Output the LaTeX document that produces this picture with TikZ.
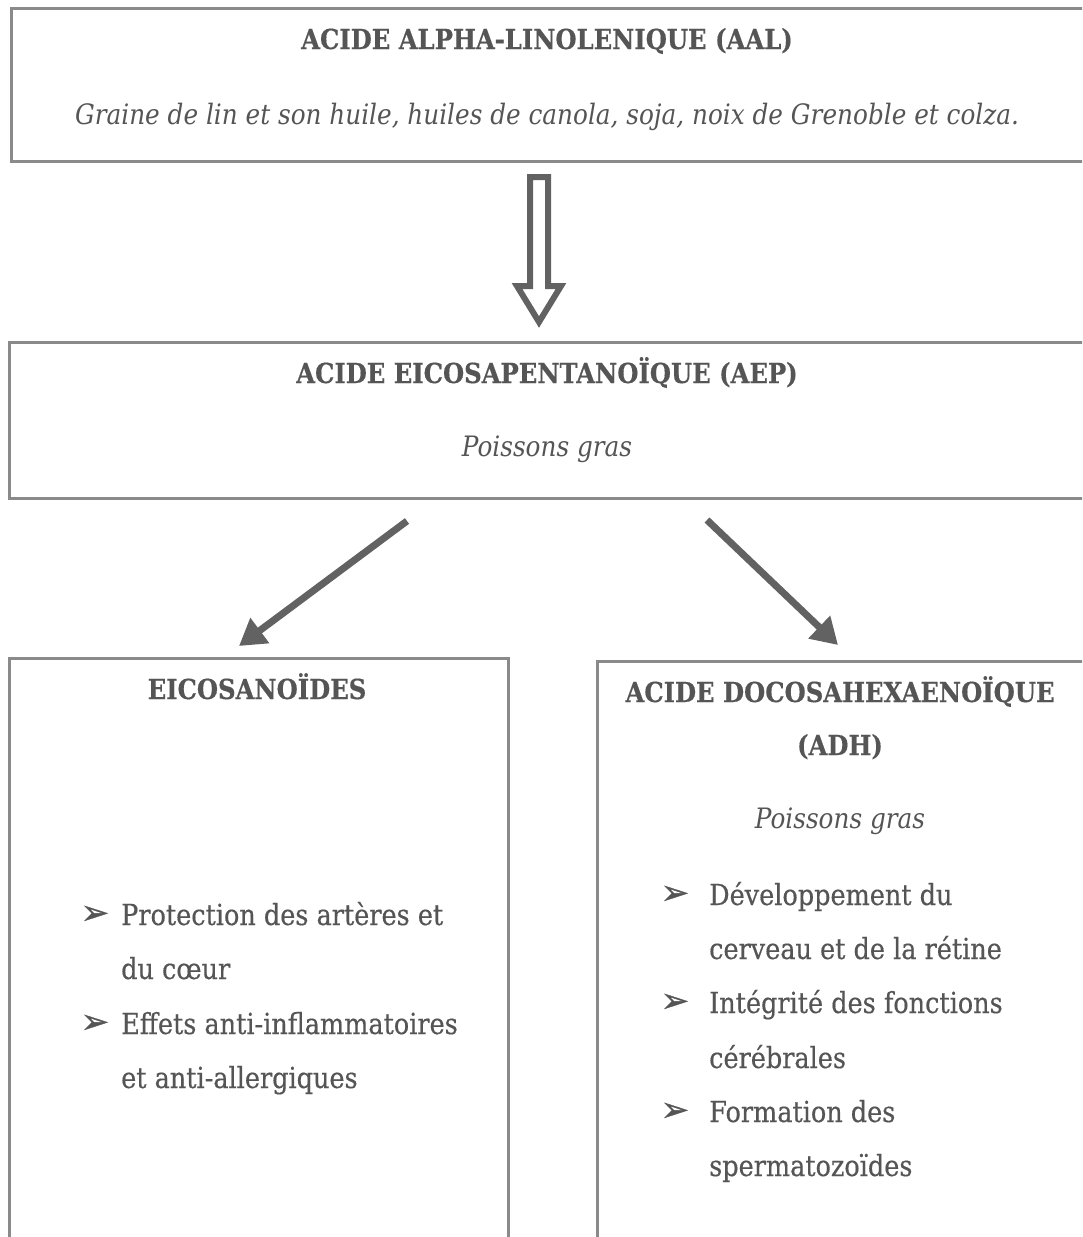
\documentclass[tikz,border=0pt]{standalone}
\usepackage{fontspec}
\setmainfont{DejaVu Serif}[FakeStretch=0.88, BoldFeatures={FakeBold=0.4}]
\newfontfamily\itemfont{DejaVu Serif}[FakeStretch=0.88, FakeBold=0.4]
\newfontfamily\bulletfont{DejaVu Sans}[FakeBold=1]
\usetikzlibrary{arrows.meta}

\definecolor{inkgray}{HTML}{555555}
\definecolor{framegray}{HTML}{8A8A8A}
\definecolor{arrowgray}{HTML}{626262}

\begin{document}
\begin{tikzpicture}[x=1pt, y=-1pt,
	box/.style={rectangle, draw=framegray, line width=3pt, anchor=north west, inner sep=0pt},
	title/.style={anchor=base, inner sep=0pt, text=inkgray, font=\fontsize{27.6}{32}\selectfont\bfseries},
	source/.style={anchor=base, inner sep=0pt, text=inkgray, font=\fontsize{28.1}{32}\selectfont\itshape},
	item/.style={anchor=base west, inner sep=0pt, text=inkgray, font=\fontsize{29}{32}\selectfont\itemfont},
	bullet/.style={anchor=base, inner sep=0pt, text=inkgray, font=\fontsize{34}{36}\selectfont\bulletfont},
	flow/.style={draw=arrowgray, line width=7pt, -{Triangle[length=26pt, width=30pt]}}]
	\useasboundingbox (0,0) rectangle (1082,1237);
	\clip (0,0) rectangle (1082,1237);
	\fill[white] (0,0) rectangle (1082,1237);

	% boxes
	\node[box, minimum width=1100pt, minimum height=153pt] (aal) at (10,7) {}; %
	\node[box, minimum width=1100pt, minimum height=156pt] (aep) at (8,341) {}; %
	\node[box, minimum width=499pt, minimum height=620pt] (eico) at (8,657) {}; %
	\node[box, minimum width=520pt, minimum height=620pt] (adh) at (596,660) {}; %

	% texts
	\node[title] (aaltitle) at (547,49) {ACIDE ALPHA-LINOLENIQUE (AAL)};
	\node[source] (aalsrc) at (547,124) {Graine de lin et son huile, huiles de canola, soja, noix de Grenoble et colza.};
	\node[title] (aeptitle) at (547,383) {ACIDE EICOSAPENTANOÏQUE (AEP)};
	\node[source] (aepsrc) at (547,456) {Poissons gras};
	\node[title] (eicotitle) at (257,699) {EICOSANOÏDES};
	\node[title] (adhtitle) at (840,702) {ACIDE DOCOSAHEXAENOÏQUE};
	\node[title] (adhabbr) at (840,755) {(ADH)};
	\node[source] (adhsrc) at (840,828) {Poissons gras};

	% bullet lists
	\node[bullet] (eb1) at (95,924) {➢};
	\node[item] (e1) at (121,925) {Protection des artères et};
	\node[item] (e2) at (121,979) {du cœur};
	\node[bullet] (eb2) at (95,1033) {➢};
	\node[item] (e3) at (121,1034) {Effets anti-inflammatoires};
	\node[item] (e4) at (121,1088) {et anti-allergiques};

	\node[bullet] (db1) at (675,904) {➢};
	\node[item] (d1) at (709,905) {Développement du};
	\node[item] (d2) at (709,959) {cerveau et de la rétine};
	\node[bullet] (db2) at (675,1012) {➢};
	\node[item] (d3) at (709,1013) {Intégrité des fonctions};
	\node[item] (d4) at (709,1068) {cérébrales};
	\node[bullet] (db3) at (675,1121) {➢};
	\node[item] (d5) at (709,1122) {Formation des};
	\node[item] (d6) at (709,1176) {spermatozoïdes};

	% edges
	\coordinate (aalout) at (539,177);
	\draw[draw=arrowgray, line width=6pt, line join=miter, fill=white]
		(aalout) ++(-9,0) -- ++(18,0) -- ++(0,109) -- ++(13,0) -- (539,322) -- (517,286) -- (530,286) -- cycle;
	\coordinate (aepleft) at (407,521);
	\coordinate (eicoin) at (239,646);
	\coordinate (aepright) at (707,520);
	\coordinate (adhin) at (838,645);
	\draw[flow] (aepleft) -- (eicoin);
	\draw[flow] (aepright) -- (adhin);
\end{tikzpicture}
\end{document}
